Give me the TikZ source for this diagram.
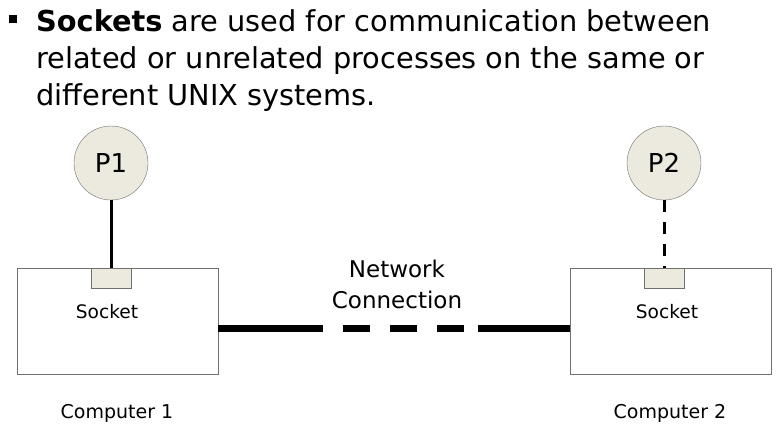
\documentclass[tikz,border=0pt]{standalone}
\usepackage{fontspec}
\setmainfont{DejaVu Sans}
\usepackage{tikz}
\usetikzlibrary{positioning}

\definecolor{procfill}{RGB}{236,234,223}
\definecolor{edgegray}{RGB}{112,112,112}

\tikzset{
  headline/.style={anchor=base west, inner sep=0pt, font=\fontsize{28.8}{37}\selectfont},
  proc/.style={circle, draw=edgegray, fill=procfill, minimum size=74pt, inner sep=0pt, font=\fontsize{26}{30}\selectfont},
  computer/.style={draw=edgegray, fill=white, minimum width=201pt, minimum height=106pt, inner sep=0pt},
  sockbox/.style={draw=edgegray, fill=procfill, minimum width=40pt, minimum height=20pt, inner sep=0pt, anchor=north},
  smalltext/.style={inner sep=0pt, font=\fontsize{18.6}{22}\selectfont},
  netline/.style={line width=7pt, dash pattern=on 105pt off 20pt on 27pt off 20pt on 27pt off 20pt on 27pt off 14pt on 120pt}
}

\begin{document}
\begin{tikzpicture}[x=1pt, y=-1pt]
 \useasboundingbox (0,0) rectangle (782,441);
 % heading
 \node[fill=black, minimum size=8pt, inner sep=0pt] (bullet) at (13,19.5) {};
 \node[headline] (head1) at (36,32) {\textbf{Sockets} are used for communication between};
 \node[headline] (head2) at (36,69) {related or unrelated processes on the same or};
 \node[headline] (head3) at (36,106) {different UNIX systems.};
 % computers
 \node[computer] (comp1) at (117.5,321) {};
 \node[computer] (comp2) at (671,321) {};
 \node[sockbox] (sock1) at (111,268) {};
 \node[sockbox] (sock2) at (664,268) {};
 \node[smalltext] (socklbl1) at (107,312) {Socket};
 \node[smalltext] (socklbl2) at (667,312) {Socket};
 \node[smalltext, font=\fontsize{19}{22}\selectfont] (complbl1) at (117,413) {Computer 1};
 \node[smalltext, font=\fontsize{19}{22}\selectfont] (complbl2) at (670,413) {Computer 2};
 % processes
 \node[proc] (p1) at (111,163) {P1};
 \node[proc] (p2) at (664,163) {P2};
 \draw[line width=3pt] (p1) -- (sock1);
 \draw[line width=3pt, dash pattern=on 12pt off 10pt] (p2) -- (sock2);
 % network
 \draw[netline] ([yshift=-7pt]comp1.east) -- ([yshift=-7pt]comp2.west);
 \node[align=center, inner sep=0pt, font=\fontsize{23}{31}\selectfont] (net) at (397,284) {Network\\Connection};
\end{tikzpicture}
\end{document}
